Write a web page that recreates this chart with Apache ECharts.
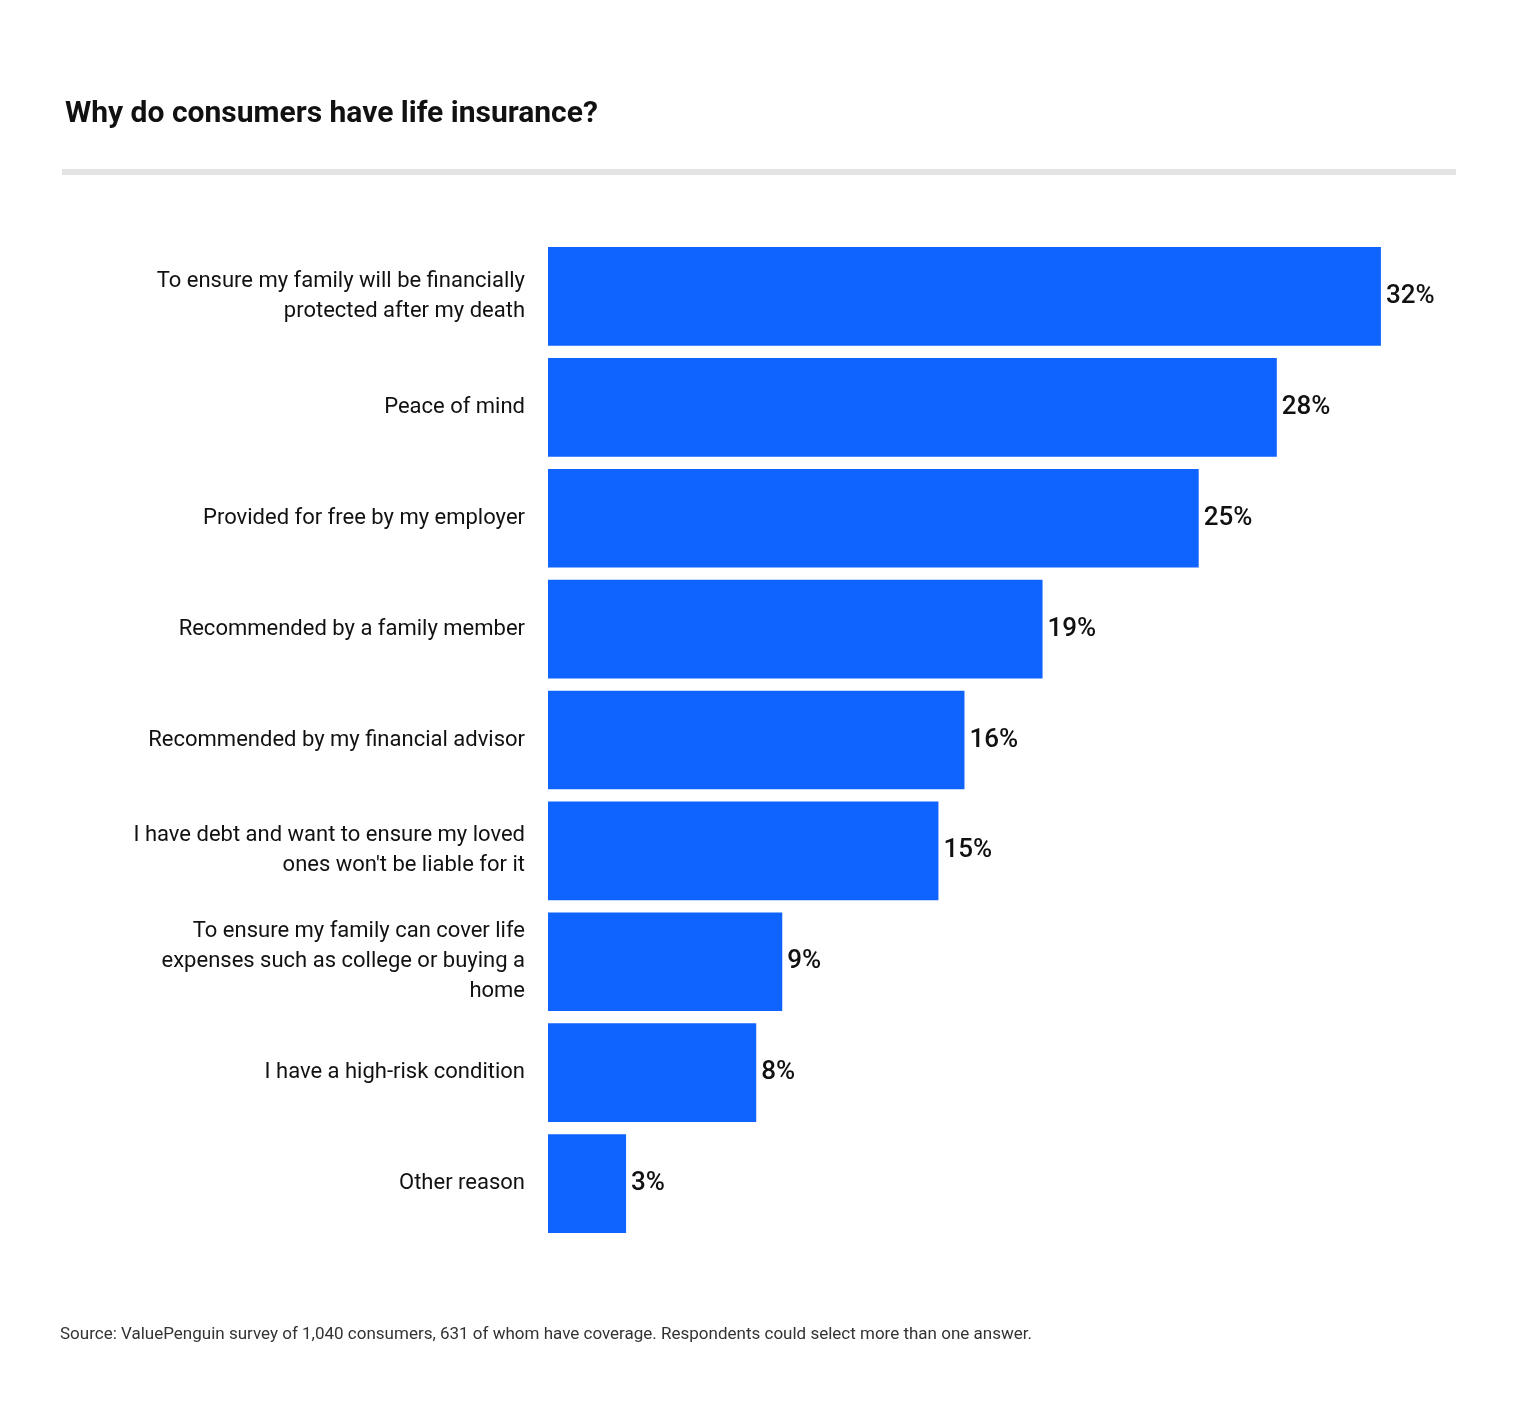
<!DOCTYPE html>
<html><head><meta charset="utf-8">
<script src="https://cdn.jsdelivr.net/npm/echarts@6/dist/echarts.min.js"></script>
<style>html,body{margin:0;padding:0;background:#fff}#c{width:1520px;height:1416px}</style>
</head><body><div id="c"></div>
<script>
const categories = [
  "To ensure my family will be financially\nprotected after my death",
  "Peace of mind",
  "Provided for free by my employer",
  "Recommended by a family member",
  "Recommended by my financial advisor",
  "I have debt and want to ensure my loved\nones won't be liable for it",
  "To ensure my family can cover life\nexpenses such as college or buying a\nhome",
  "I have a high-risk condition",
  "Other reason"
];
const values = [32, 28, 25, 19, 16, 15, 9, 8, 3];
const titleText = "Why do consumers have life insurance?";
const sourceText = "Source: ValuePenguin survey of 1,040 consumers, 631 of whom have coverage. Respondents could select more than one answer.";

const chart = echarts.init(document.getElementById('c'));
chart.setOption({
  backgroundColor: '#fff',
  title: {text: titleText, left: 60, top: 94, textStyle: {fontFamily: 'Roboto', fontSize: 30, fontWeight: 'bold', color: '#111'}},
  graphic: [
    {type: 'rect', shape: {x: 62, y: 169, width: 1394, height: 6}, style: {fill: '#e3e3e3'}},
    {type: 'text', left: 60, top: 1326, style: {text: sourceText, font: '17px Roboto', fill: '#333'}}
  ],
  grid: {left: 548, right: 61, top: 241, bottom: 177},
  xAxis: {type: 'value', min: 0, max: 35, show: false},
  yAxis: {
    type: 'category', inverse: true, data: categories,
    axisLine: {show: false}, axisTick: {show: false},
    axisLabel: {margin: 23, fontFamily: 'Roboto', fontSize: 22, color: '#111', lineHeight: 30, align: 'right'}
  },
  series: [{
    type: 'bar', data: values, barCategoryGap: '11%',
    itemStyle: {color: '#0f63ff'},
    label: {show: true, position: 'right', distance: 5, formatter: '{c}%', fontFamily: 'Roboto', fontSize: 26, fontWeight: 500, color: '#111'}
  }]
});
</script></body></html>
